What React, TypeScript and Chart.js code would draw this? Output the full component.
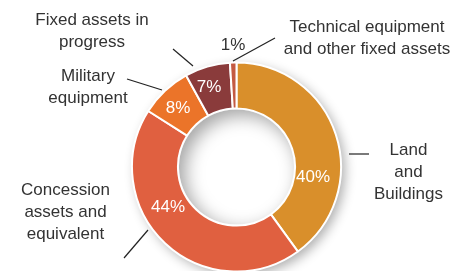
import React, { useEffect, useRef } from "react";
import { Chart, registerables } from "chart.js";

Chart.register(...registerables);

const categories = [
  "Land and Buildings",
  "Concession assets and equivalent",
  "Military equipment",
  "Fixed assets in progress",
  "Technical equipment and other fixed assets",
];
const shares = [40, 44, 8, 7, 1];
const percentLabels = ["40%", "44%", "8%", "7%", "1%"];
const labelLines = [
  ["Land", "and", "Buildings"],
  ["Concession", "assets and", "equivalent"],
  ["Military", "equipment"],
  ["Fixed assets in", "progress"],
  ["Technical equipment", "and other fixed assets"],
];
const colors = ["#D98F2B", "#E06040", "#EB7429", "#8A3B3B", "#C45A42"];

// layout offsets relative to the ring centre (style, not data)
const pctPos = [
  [76.5, 10],
  [-68.5, 40],
  [-58.5, -59],
  [-27.5, -80],
  [-3.5, -122],
];
const labelPos = [
  [172, -17],
  [-171, 23],
  [-148.5, -91],
  [-144.5, -147],
  [130.5, -140],
];
const leaders = [
  [112.5, -13, 132.5, -13],
  [-112.5, 91, -88.5, 63],
  [-109.5, -88, -74.5, -77],
  [-63.5, -118, -43.5, -101],
  [38.5, -129, -3.5, -106],
];

const FONT = '17px "Liberation Sans", Arial, sans-serif';

const decor = {
  id: "decor",
  beforeDatasetsDraw(chart: any) {
    const arc = chart.getDatasetMeta(0).data[0];
    if (!arc) return;
    const { x, y, outerRadius } = arc;
    const ctx = chart.ctx;
    ctx.save();
    ctx.shadowColor = "rgba(0,0,0,0.32)";
    ctx.shadowBlur = 12;
    ctx.shadowOffsetX = 4;
    ctx.shadowOffsetY = 4;
    ctx.beginPath();
    ctx.arc(x, y, outerRadius, 0, Math.PI * 2);
    ctx.fillStyle = "#ffffff";
    ctx.fill();
    ctx.restore();
  },
  afterDatasetsDraw(chart: any) {
    const arc = chart.getDatasetMeta(0).data[0];
    if (!arc) return;
    const { x, y, innerRadius } = arc;
    const ctx = chart.ctx;
    const r = innerRadius - 1;
    // inner hole with inset shadow
    ctx.save();
    ctx.beginPath();
    ctx.arc(x, y, r, 0, Math.PI * 2);
    ctx.fillStyle = "#ffffff";
    ctx.fill();
    ctx.clip();
    ctx.shadowColor = "rgba(0,0,0,0.36)";
    ctx.shadowBlur = 18;
    ctx.shadowOffsetX = 6;
    ctx.shadowOffsetY = 6;
    ctx.beginPath();
    ctx.arc(x, y, r + 15, 0, Math.PI * 2);
    ctx.lineWidth = 30;
    ctx.strokeStyle = "#ffffff";
    ctx.stroke();
    ctx.restore();

    // texts
    ctx.save();
    ctx.font = FONT;
    ctx.textAlign = "center";
    ctx.textBaseline = "middle";
    percentLabels.forEach((t, i) => {
      ctx.fillStyle = i === 4 ? "#333333" : "#ffffff";
      ctx.fillText(t, x + pctPos[i][0], y + pctPos[i][1]);
    });
    ctx.fillStyle = "#333333";
    labelLines.forEach((lines, i) => {
      lines.forEach((ln, j) => {
        ctx.fillText(ln, x + labelPos[i][0], y + labelPos[i][1] + j * 22);
      });
    });
    ctx.strokeStyle = "#222222";
    ctx.lineWidth = 1.2;
    leaders.forEach((l) => {
      ctx.beginPath();
      ctx.moveTo(x + l[0], y + l[1]);
      ctx.lineTo(x + l[2], y + l[3]);
      ctx.stroke();
    });
    ctx.restore();
  },
};

export default function App() {
  const ref = useRef<HTMLCanvasElement>(null);
  useEffect(() => {
    if (!ref.current) return;
    const chart = new Chart(ref.current, {
      type: "doughnut",
      data: {
        labels: categories,
        datasets: [
          {
            data: shares,
            backgroundColor: colors,
            borderColor: "#ffffff",
            borderWidth: 2,
          },
        ],
      },
      options: {
        responsive: false,
        animation: false,
        cutout: "56%",
        layout: { padding: { top: 61.5, bottom: 0.5, left: 131, right: 124 } },
        plugins: { legend: { display: false }, tooltip: { enabled: false } },
      },
      plugins: [decor],
    });
    return () => chart.destroy();
  }, []);
  return (
    <div
      style={{
        position: "absolute",
        left: 0,
        top: 0,
        width: 466,
        height: 271,
        overflow: "hidden",
        background: "#ffffff",
      }}
    >
      <canvas ref={ref} width={466} height={273} style={{ width: 466, height: 273 }} />
    </div>
  );
}
